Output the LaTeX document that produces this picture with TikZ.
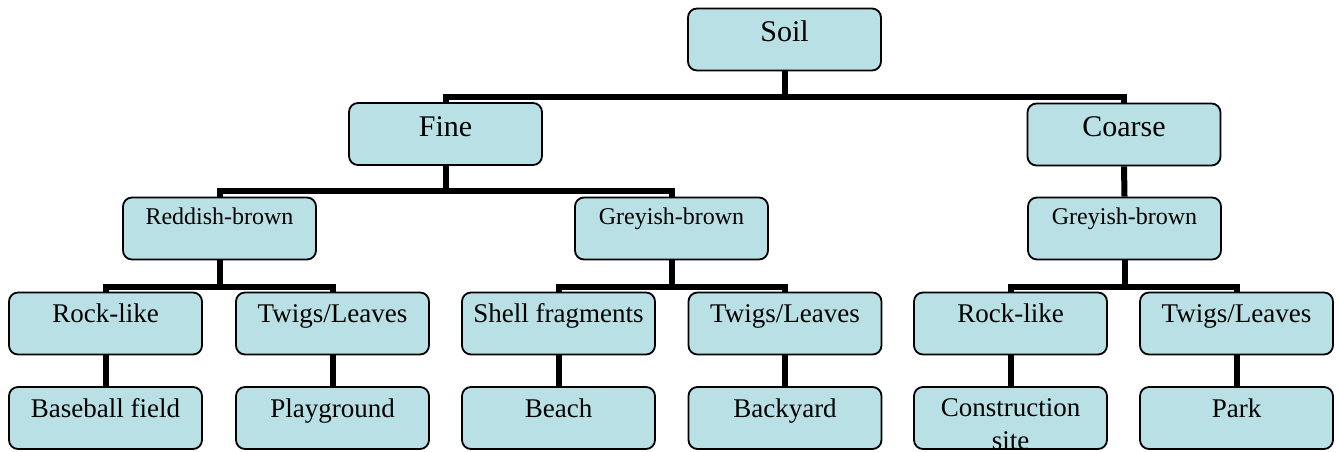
\documentclass[tikz,border=0pt]{standalone}
\usepackage{fontspec}
\setmainfont{Liberation Serif}
\usetikzlibrary{backgrounds}
\definecolor{boxfill}{RGB}{185,224,228}
\tikzset{
  box/.style={draw=black, line width=1.8pt, rounded corners=9pt, fill=boxfill,
    minimum width=193pt, minimum height=62pt, inner sep=0pt,
    text height=0pt, text depth=2pt},
  lvlone/.style={box, font=\fontsize{30}{36}\selectfont, text height=4.4pt, text depth=0pt},
  lvltwo/.style={box, font=\fontsize{24}{29}\selectfont, text depth=7.5pt},
  lvlthree/.style={box, font=\fontsize{27}{30}\selectfont, text depth=1.6pt},
  lvlfour/.style={box, font=\fontsize{27}{30}\selectfont, text depth=2pt},
  conn/.style={line width=6pt, draw=black, line join=miter}
}
\begin{document}
\begin{tikzpicture}[x=1pt,y=-1pt]
\useasboundingbox (0,0) rectangle (1338,451);

% level 1
\node[lvlone] (soil)   at (784.5,39.5) {Soil};
\node[lvlone] (fine)   at (445.5,134)  {Fine};
\node[lvlone] (coarse) at (1124,134.5) {Coarse};

% level 2
\node[lvltwo] (redb)  at (219.5,228.5)  {Reddish-brown};
\node[lvltwo] (greym) at (671.5,228.5)  {Greyish-brown};
\node[lvltwo] (greyr) at (1124.5,228.5) {Greyish-brown};

% level 3
\node[lvlthree] (rockA)  at (105.5,323.5)  {Rock-like};
\node[lvlthree] (twigsA) at (332.5,323.5)  {Twigs/Leaves};
\node[lvlthree] (shell)  at (558.5,323.5)  {Shell fragments};
\node[lvlthree] (twigsB) at (785,323.5)    {Twigs/Leaves};
\node[lvlthree] (rockB)  at (1010.5,323.5) {Rock-like};
\node[lvlthree] (twigsC) at (1236.5,323.5) {Twigs/Leaves};

% level 4
\node[lvlfour] (baseball) at (105.5,418)  {Baseball field};
\node[lvlfour] (playgr)   at (332.5,418)  {Playground};
\node[lvlfour] (beach)    at (558.5,418)  {Beach};
\node[lvlfour] (backyard) at (785,418)    {Backyard};
% two-line label, clipped by the box outline
\node[lvlfour, path picture={
    \node[inner sep=0pt, text height=0pt, text depth=0pt,
          font=\fontsize{27}{33}\selectfont] (constrtext)
      at ([yshift=1.5pt]path picture bounding box.center)
      {\smash{\begin{tabular}[t]{@{}c@{}}Construction\\site\end{tabular}}};
  }] (constr) at (1010.5,418) {};
\node[lvlfour] (park)     at (1236.5,418) {Park};

% horizontal bus lines
\coordinate (busA) at (0,96.5);
\coordinate (busB) at (0,191);
\coordinate (busC) at (0,287);

\begin{scope}[on background layer]
  \draw[conn] (soil.south) -- (soil.south |- busA);
  \draw[conn] (fine.north) |- (coarse.north |- busA) -- (coarse.north);

  \draw[conn] (fine.south) -- (fine.south |- busB);
  \draw[conn] (redb.north) |- (greym.north |- busB) -- (greym.north);
  \draw[conn] (coarse.south) -- (greyr.north);

  \draw[conn] (redb.south) -- (redb.south |- busC);
  \draw[conn] (rockA.north) |- (twigsA.north |- busC) -- (twigsA.north);
  \draw[conn] (greym.south) -- (greym.south |- busC);
  \draw[conn] (shell.north) |- (twigsB.north |- busC) -- (twigsB.north);
  \draw[conn] (greyr.south) -- (greyr.south |- busC);
  \draw[conn] (rockB.north) |- (twigsC.north |- busC) -- (twigsC.north);

  \draw[conn] (rockA.south)  -- (baseball.north);
  \draw[conn] (twigsA.south) -- (playgr.north);
  \draw[conn] (shell.south)  -- (beach.north);
  \draw[conn] (twigsB.south) -- (backyard.north);
  \draw[conn] (rockB.south)  -- (constr.north);
  \draw[conn] (twigsC.south) -- (park.north);
\end{scope}
\end{tikzpicture}
\end{document}
